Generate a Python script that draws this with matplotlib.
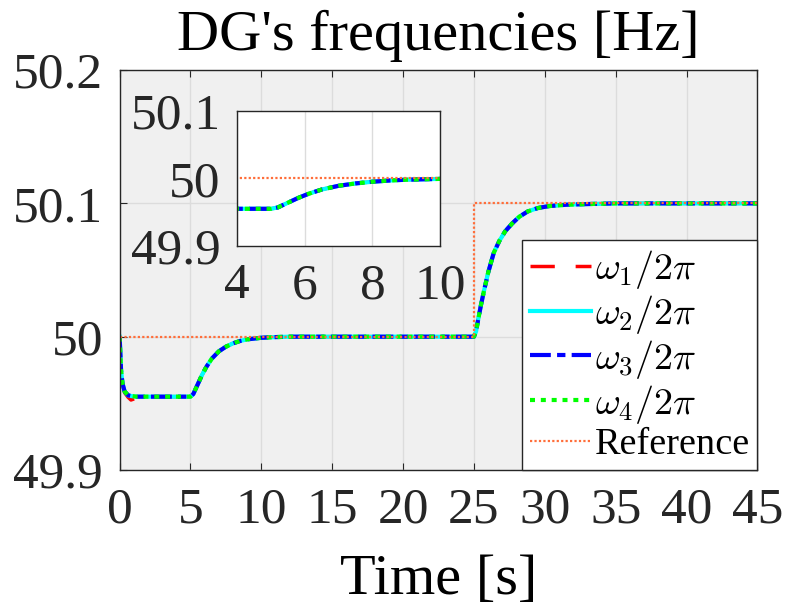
import numpy as np
import matplotlib
matplotlib.use('Agg')
import matplotlib.pyplot as plt

plt.rcParams['font.family'] = 'serif'
plt.rcParams['font.serif'] = ['Liberation Serif', 'Times New Roman', 'DejaVu Serif']
plt.rcParams['mathtext.fontset'] = 'cm'

# DG frequency traces (time in s, frequency in Hz)
t_dg = [0, 0.1, 0.2, 0.35, 0.6, 0.8, 1.2, 2, 5, 5.2, 5.5, 5.8, 6.1, 6.5, 7, 7.5, 8,
        8.5, 9, 10, 11, 12, 25, 25.15, 25.3, 25.5, 25.7, 26, 26.4, 26.8, 27.2, 27.7,
        28.2, 28.8, 29.5, 30.3, 31.5, 33, 35, 45]
f_w1 = [50.000, 49.975, 49.965, 49.958, 49.9545, 49.9525, 49.954, 49.955, 49.955, 49.957,
        49.964, 49.971, 49.977, 49.9835, 49.989, 49.9925, 49.995, 49.9968, 49.998, 49.9992,
        49.9997, 50.000, 50.000, 50.004, 50.013, 50.024, 50.034, 50.048, 50.063, 50.072,
        50.079, 50.085, 50.090, 50.094, 50.0965, 50.098, 50.099, 50.0995, 50.100, 50.100]
f_w2 = [50.000, 49.975, 49.965, 49.959, 49.956, 49.9555, 49.955, 49.955, 49.955, 49.957,
        49.964, 49.971, 49.977, 49.9835, 49.989, 49.9925, 49.995, 49.9968, 49.998, 49.9992,
        49.9997, 50.000, 50.000, 50.004, 50.013, 50.024, 50.034, 50.048, 50.063, 50.072,
        50.079, 50.085, 50.090, 50.094, 50.0965, 50.098, 50.099, 50.0995, 50.100, 50.100]
f_w3 = list(f_w2)
f_w4 = list(f_w2)

t_ref = [0, 25, 25, 45]
f_ref = [50.0, 50.0, 50.1, 50.1]

series = [
    (f_w1, dict(color='#ff0000', linestyle=(0, (7, 6)), linewidth=2.5, label=r'$\omega_1/2\pi$')),
    (f_w2, dict(color='#00ffff', linestyle='-', linewidth=3, label=r'$\omega_2/2\pi$')),
    (f_w3, dict(color='#0000ff', linestyle=(0, (5, 1.5, 2, 1.5)), linewidth=3, label=r'$\omega_3/2\pi$')),
    (f_w4, dict(color='#00ff00', linestyle=(0, (1.2, 1.4)), linewidth=3, label=r'$\omega_4/2\pi$')),
]
ref_style = dict(color='#ff6e3a', linestyle=(0, (1, 1)), linewidth=1.6, label='Reference')

fig = plt.figure(figsize=(7.87, 6.15), dpi=100)
ax = fig.add_axes([0.152, 0.2358, 0.8104, 0.6502])
ax.set_facecolor('#f0f0f0')

for f, st in series:
    ax.plot(t_dg, f, **st)
ax.plot(t_ref, f_ref, **ref_style)

ax.set_xlim(0, 45)
ax.set_ylim(49.9, 50.2)
ax.set_xticks(np.arange(0, 46, 5))
ax.set_yticks([49.9, 50.0, 50.1, 50.2])
ax.set_yticklabels(['49.9', '50', '50.1', '50.2'])
ax.grid(True, color='#dcdcdc', linewidth=1)
ax.tick_params(direction='in', length=5, width=0.8, colors='#262626',
               labelsize=37, top=True, right=True)
ax.tick_params(axis='y', pad=12)
ax.tick_params(axis='x', pad=12)
for s in ax.spines.values():
    s.set_color('#262626')
    s.set_linewidth(1)

ax.set_title("DG's frequencies [Hz]", fontsize=42, color='black', pad=14.5)
ax.set_xlabel('Time [s]', fontsize=42, labelpad=15)

leg = ax.legend(loc='lower right', fontsize=27.5, frameon=True, fancybox=False,
                handlelength=1.6, handletextpad=0.1, borderaxespad=0,
                labelspacing=0.05, borderpad=0.2)
leg.get_frame().set_edgecolor('#262626')
leg.get_frame().set_linewidth(1)
leg.get_frame().set_facecolor('white')
leg.get_frame().set_alpha(1)

# inset zoom on the first transient
ins = fig.add_axes([0.3015, 0.6, 0.2576, 0.22])
ins.set_facecolor('white')
for f, st in series:
    ins.plot(t_dg, f, **st)
ins.plot(t_ref, f_ref, **ref_style)
ins.set_xlim(4, 10)
ins.set_ylim(49.9, 50.1)
ins.set_xticks([4, 6, 8, 10])
ins.set_yticks([49.9, 50.0, 50.1])
ins.set_yticklabels(['49.9', '50', '50.1'])
ins.grid(True, axis='x', color='#dcdcdc', linewidth=1)
ins.tick_params(length=0, labelsize=37, colors='#262626', pad=12)
for s in ins.spines.values():
    s.set_color('#262626')
    s.set_linewidth(1)

fig.savefig('out.png', dpi=100)
